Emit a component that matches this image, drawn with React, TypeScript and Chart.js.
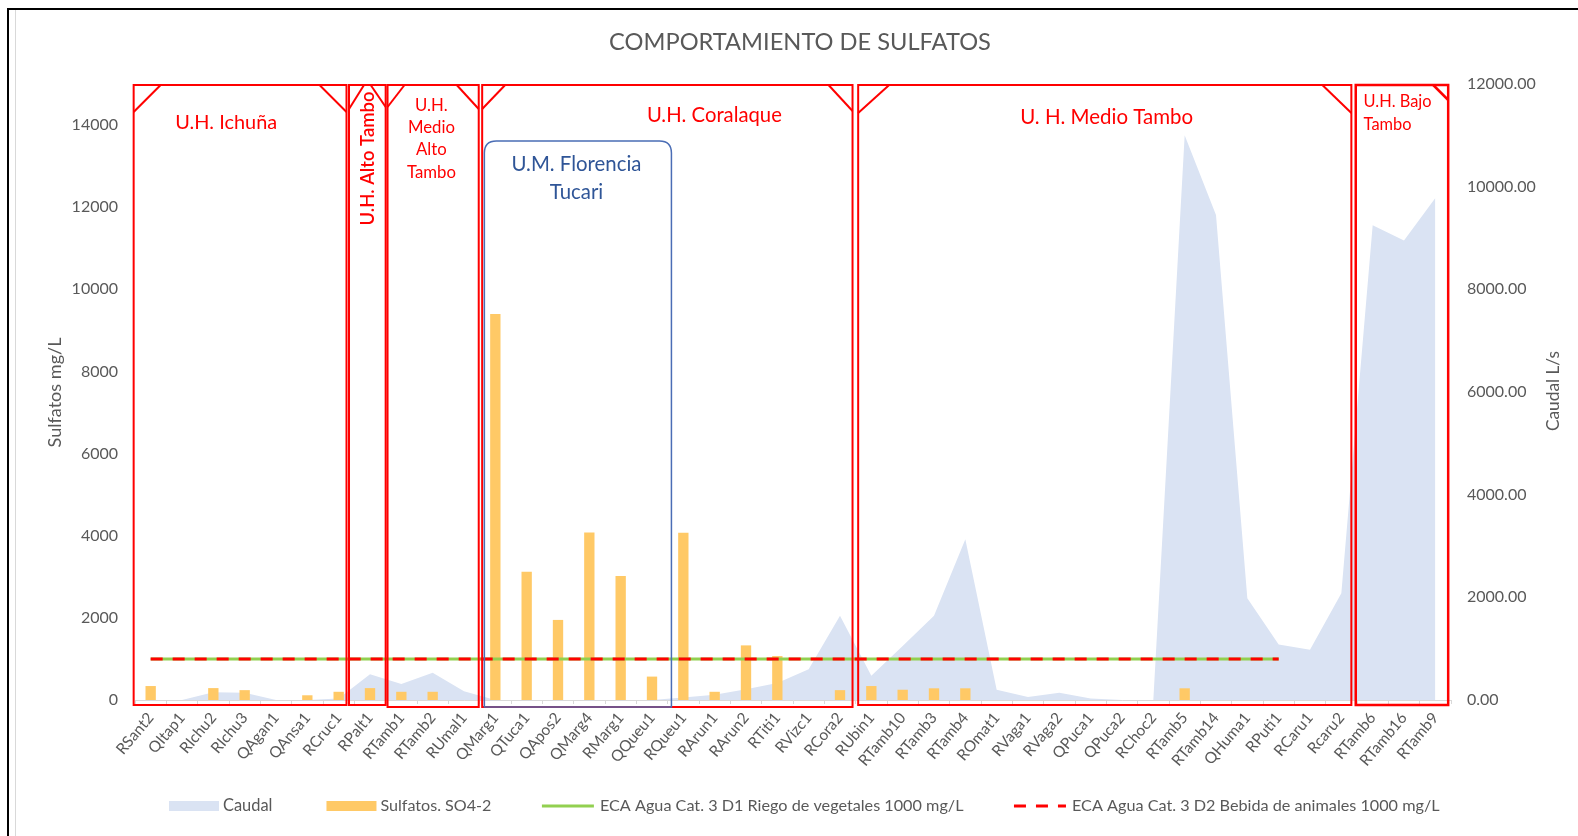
import React, { useEffect, useRef } from "react";
import { Chart, registerables } from "chart.js";

Chart.register(...registerables);

const FONT = "Lato, 'Open Sans', 'DejaVu Sans', sans-serif";
const GRAY = "#595959";
const RED = "#FF0000";
const BLUE = "#2F5597";

const categories = [
  "RSant2", "QItap1", "RIchu2", "RIchu3", "QAgan1", "QAnsa1", "RCruc1", "RPalt1", "RTamb1", "RTamb2",
  "RUmal1", "QMarg1", "QTuca1", "QApos2", "QMarg4", "RMarg1", "QQueu1", "RQueu1", "RArun1", "RArun2",
  "RTiti1", "RVizc1", "RCora2", "RUbin1", "RTamb10", "RTamb3", "RTamb4", "ROmat1", "RVaga1", "RVaga2",
  "QPuca1", "QPuca2", "RChoc2", "RTamb5", "RTamb14", "QHuma1", "RPuti1", "RCaru1", "Rcaru2", "RTamb6",
  "RTamb16", "RTamb9",
];

// Caudal L/s (right axis)
const caudal = [
  0, 0, 150, 140, 0, 0, 30, 500, 310, 530,
  170, 0, 0, 0, 0, 0, 0, 50, 100, 210,
  330, 600, 1640, 470, 1050, 1640, 3130, 200, 60, 140,
  30, 0, 0, 11000, 9450, 1980, 1080, 980, 2080, 9250,
  8950, 9780,
];

// Sulfatos SO4-2 mg/L (left axis)
const sulfatos = [
  340, null, 290, 240, null, 115, 200, 290, 200, 200,
  null, 9400, 3120, 1950, 4080, 3020, 570, 4070, 200, 1330,
  1070, null, 240, 340, 250, 285, 285, null, null, null,
  null, null, null, 285, null, null, null, null, null, null,
  null, null,
];

const ecaRiego = [
  1000, 1000, 1000, 1000, 1000, 1000, 1000, 1000, 1000, 1000,
  1000, 1000, 1000, 1000, 1000, 1000, 1000, 1000, 1000, 1000,
  1000, 1000, 1000, 1000, 1000, 1000, 1000, 1000, 1000, 1000,
  1000, 1000, 1000, 1000, 1000, 1000, 1000, null, null, null,
  null, null,
];

const ecaBebida = [
  1000, 1000, 1000, 1000, 1000, 1000, 1000, 1000, 1000, 1000,
  1000, 1000, 1000, 1000, 1000, 1000, 1000, 1000, 1000, 1000,
  1000, 1000, 1000, 1000, 1000, 1000, 1000, 1000, 1000, 1000,
  1000, 1000, 1000, 1000, 1000, 1000, 1000, null, null, null,
  null, null,
];

const seriesNames = [
  "Caudal",
  "Sulfatos. SO4-2",
  "ECA Agua Cat. 3 D1 Riego de vegetales 1000 mg/L",
  "ECA Agua Cat. 3 D2 Bebida de animales 1000 mg/L",
];

const chartTitle = "COMPORTAMIENTO DE SULFATOS";
const leftAxisTitle = "Sulfatos mg/L";
const rightAxisTitle = "Caudal L/s";

// Annotation boxes (in category-index units along x)
const regionBoxes = [
  { from: -0.543, to: 6.25, top: 1, bottom: 5, color: RED, width: 2, tl: [27, 27], tr: [27, 27] },
  { from: 6.33, to: 7.5, top: 1, bottom: 5, color: RED, width: 2, tl: [15, 24], tr: [15, 22] },
  { from: 7.56, to: 10.47, top: 1, bottom: 7, color: RED, width: 2, tl: [17, 22], tr: [22, 24] },
  { from: 10.58, to: 22.4, top: 1, bottom: 7, color: RED, width: 2, tl: [23, 24], tr: [24, 26] },
  { from: 22.58, to: 38.32, top: 1, bottom: 5, color: RED, width: 2, tl: [31, 28], tr: [29, 28] },
  { from: 38.46, to: 41.41, top: 1, bottom: 5, color: RED, width: 2.5, tl: null, tr: [15, 15] },
  { from: 10.65, to: 16.62, top: 57, bottom: 7, color: "#4A6DB5", width: 1.5, tl: null, tr: null, radius: 12 },
];

const regionLabels = [
  { lines: ["U.H. Ichuña"], f: 2.41, y: 123, lh: 0, fitW: 102, color: RED, align: "center", weight: "normal" },
  { lines: ["U.H. Alto Tambo"], f: 6.93, y: 158.5, lh: 0, fitW: 134, color: RED, align: "center", weight: "600", rotate: true },
  { lines: ["U.H.", "Medio", "Alto", "Tambo"], f: 8.96, y: 105.7, lh: 22.2, fitW: 47, fitIdx: 1, color: RED, align: "center", weight: "normal" },
  { lines: ["U.H. Coralaque"], f: 17.99, y: 115.7, lh: 0, fitW: 135, color: RED, align: "center", weight: "normal" },
  { lines: ["U. H. Medio Tambo"], f: 30.51, y: 117.7, lh: 0, fitW: 173, color: RED, align: "center", weight: "normal" },
  { lines: ["U.H. Bajo", "Tambo"], f: 38.71, y: 101.6, lh: 23.2, fitW: 68, color: RED, align: "left", weight: "normal" },
  { lines: ["U.M. Florencia", "Tucari"], f: 13.59, y: 164, lh: 28.2, fitW: 130, color: BLUE, align: "center", weight: "normal" },
];

const legendTextWidths = [49.5, 111, 364, 368];

function setFitFont(ctx: CanvasRenderingContext2D, text: string, targetW: number, weight: string) {
  ctx.font = `${weight} 20px ${FONT}`;
  const w = ctx.measureText(text).width || 1;
  const size = (20 * targetW) / w;
  ctx.font = `${weight} ${size.toFixed(2)}px ${FONT}`;
  return size;
}

const overlayPlugin = {
  id: "overlay",
  beforeDraw(chart: any) {
    const { ctx, width, height } = chart;
    ctx.save();
    ctx.fillStyle = "#ffffff";
    ctx.fillRect(0, 0, width, height);
    ctx.restore();
  },
  afterDraw(chart: any) {
    const { ctx, chartArea } = chart;
    const xs = chart.scales.x;
    const p0 = xs.getPixelForValue(0);
    const step = xs.getPixelForValue(1) - p0;
    const fx = (f: number) => p0 + f * step;
    ctx.save();

    // page frame
    ctx.strokeStyle = "#D9D9D9";
    ctx.lineWidth = 1;
    ctx.beginPath();
    ctx.moveTo(15.5, 10);
    ctx.lineTo(15.5, chart.height);
    ctx.stroke();
    ctx.strokeStyle = "#000";
    ctx.lineWidth = 2;
    ctx.beginPath();
    ctx.moveTo(8, chart.height);
    ctx.lineTo(8, 9);
    ctx.lineTo(chart.width, 9);
    ctx.stroke();

    // title
    ctx.fillStyle = GRAY;
    ctx.textAlign = "center";
    ctx.textBaseline = "middle";
    setFitFont(ctx, chartTitle, 382, "normal");
    ctx.fillText(chartTitle, 800, 42.5);

    // axis titles
    setFitFont(ctx, leftAxisTitle, 110, "normal");
    ctx.save();
    ctx.translate(55.5, 392.5);
    ctx.rotate(-Math.PI / 2);
    ctx.fillText(leftAxisTitle, 0, 0);
    ctx.restore();
    setFitFont(ctx, rightAxisTitle, 80, "normal");
    ctx.save();
    ctx.translate(1553, 391);
    ctx.rotate(-Math.PI / 2);
    ctx.fillText(rightAxisTitle, 0, 0);
    ctx.restore();

    // region boxes
    for (const b of regionBoxes) {
      const l = fx(b.from);
      const r = fx(b.to);
      const t = chartArea.top + b.top;
      const bt = chartArea.bottom + b.bottom;
      ctx.strokeStyle = b.color;
      ctx.lineWidth = b.width;
      ctx.beginPath();
      if (b.radius) {
        const rad = b.radius;
        ctx.moveTo(l, bt);
        ctx.lineTo(l, t + rad);
        ctx.quadraticCurveTo(l, t, l + rad, t);
        ctx.lineTo(r - rad, t);
        ctx.quadraticCurveTo(r, t, r, t + rad);
        ctx.lineTo(r, bt);
        ctx.closePath();
      } else {
        ctx.rect(l, t, r - l, bt - t);
      }
      ctx.stroke();
      if (b.tl) {
        ctx.beginPath();
        ctx.moveTo(l, t + b.tl[1]);
        ctx.lineTo(l + b.tl[0], t);
        ctx.stroke();
      }
      if (b.tr) {
        ctx.beginPath();
        ctx.moveTo(r - b.tr[0], t);
        ctx.lineTo(r, t + b.tr[1]);
        ctx.stroke();
      }
    }

    // region labels
    for (const lab of regionLabels) {
      ctx.fillStyle = lab.color;
      ctx.textBaseline = "middle";
      ctx.textAlign = lab.align as CanvasTextAlign;
      const ref = lab.lines[(lab as any).fitIdx ?? 0];
      setFitFont(ctx, ref, lab.fitW, lab.weight);
      const x = fx(lab.f);
      if ((lab as any).rotate) {
        ctx.save();
        ctx.translate(x, lab.y);
        ctx.rotate(-Math.PI / 2);
        ctx.fillText(lab.lines[0], 0, 0);
        ctx.restore();
      } else {
        lab.lines.forEach((line, i) => ctx.fillText(line, x, lab.y + i * lab.lh));
      }
    }

    // legend
    const ds = chart.data.datasets;
    const ly = 806;
    let lx = 169;
    ctx.textAlign = "left";
    ctx.textBaseline = "middle";
    const gaps = [54, 50.5, 50.5, 0];
    ds.forEach((d: any, i: number) => {
      if (i <= 1) {
        ctx.fillStyle = d.backgroundColor;
        ctx.fillRect(lx, ly - 5, 50, 10);
      } else {
        ctx.strokeStyle = d.borderColor;
        ctx.lineWidth = 3;
        ctx.setLineDash(d.borderDash || []);
        ctx.beginPath();
        ctx.moveTo(lx, ly);
        ctx.lineTo(lx + 52, ly);
        ctx.stroke();
        ctx.setLineDash([]);
      }
      const tx = lx + (i <= 1 ? 54 : 58);
      ctx.fillStyle = GRAY;
      setFitFont(ctx, d.label, legendTextWidths[i], "normal");
      ctx.fillText(d.label, tx, ly);
      lx = tx + ctx.measureText(d.label).width + gaps[i];
    });

    ctx.restore();
  },
};

export default function App() {
  const ref = useRef<HTMLCanvasElement | null>(null);
  useEffect(() => {
    if (!ref.current) return;
    const tickFont = { family: FONT, size: 16 };
    const chart = new Chart(ref.current, {
      type: "bar",
      data: {
        labels: categories,
        datasets: [
          {
            type: "line",
            label: seriesNames[0],
            data: caudal,
            yAxisID: "y1",
            fill: "origin",
            backgroundColor: "#DAE3F3",
            borderColor: "rgba(0,0,0,0)",
            borderWidth: 0,
            pointRadius: 0,
            tension: 0,
            order: 4,
          },
          {
            type: "bar",
            label: seriesNames[1],
            data: sulfatos,
            yAxisID: "y",
            backgroundColor: "#FFC966",
            barPercentage: 0.33,
            categoryPercentage: 1,
            order: 3,
          },
          {
            type: "line",
            label: seriesNames[2],
            data: ecaRiego,
            yAxisID: "y",
            borderColor: "#92D050",
            borderWidth: 3,
            pointRadius: 0,
            fill: false,
            order: 2,
          },
          {
            type: "line",
            label: seriesNames[3],
            data: ecaBebida,
            yAxisID: "y",
            borderColor: RED,
            borderWidth: 3,
            borderDash: [12, 10],
            pointRadius: 0,
            fill: false,
            order: 1,
          },
        ] as any,
      },
      options: {
        responsive: true,
        maintainAspectRatio: false,
        animation: false,
        layout: { padding: { top: 84, left: 0, right: 0, bottom: 0 } },
        plugins: {
          legend: { display: false },
          title: { display: false },
          tooltip: { enabled: false },
        },
        scales: {
          x: {
            offset: true,
            grid: { display: true, drawOnChartArea: false, drawTicks: true, tickLength: 4, color: "#D9D9D9", offset: true },
            border: { display: true, color: "#D9D9D9" },
            ticks: { autoSkip: false, minRotation: 50, maxRotation: 50, color: GRAY, font: { family: FONT, size: 15.5 }, padding: 5 },
            afterFit: (s: any) => { s.height = 136; },
          },
          y: {
            position: "left",
            min: 0,
            max: 15000,
            grid: { display: false, drawTicks: false },
            border: { display: false },
            ticks: {
              stepSize: 1000,
              autoSkip: false,
              color: GRAY,
              font: tickFont,
              padding: 17,
              callback: (v: any) => (Number(v) % 2000 === 0 ? String(v) : ""),
            },
            afterFit: (s: any) => { s.width = 135; },
          },
          y1: {
            position: "right",
            min: 0,
            max: 12000,
            grid: { display: false, drawTicks: false },
            border: { display: false },
            ticks: { stepSize: 2000, color: GRAY, font: tickFont, padding: 16, callback: (v: any) => Number(v).toFixed(2) },
            afterFit: (s: any) => { s.width = 127; },
          },
        },
      } as any,
      plugins: [overlayPlugin],
    });
    return () => chart.destroy();
  }, []);
  return (
    <div style={{ position: "fixed", left: 0, top: 0, width: 1578, height: 836, background: "#fff" }}>
      <canvas ref={ref} />
    </div>
  );
}
